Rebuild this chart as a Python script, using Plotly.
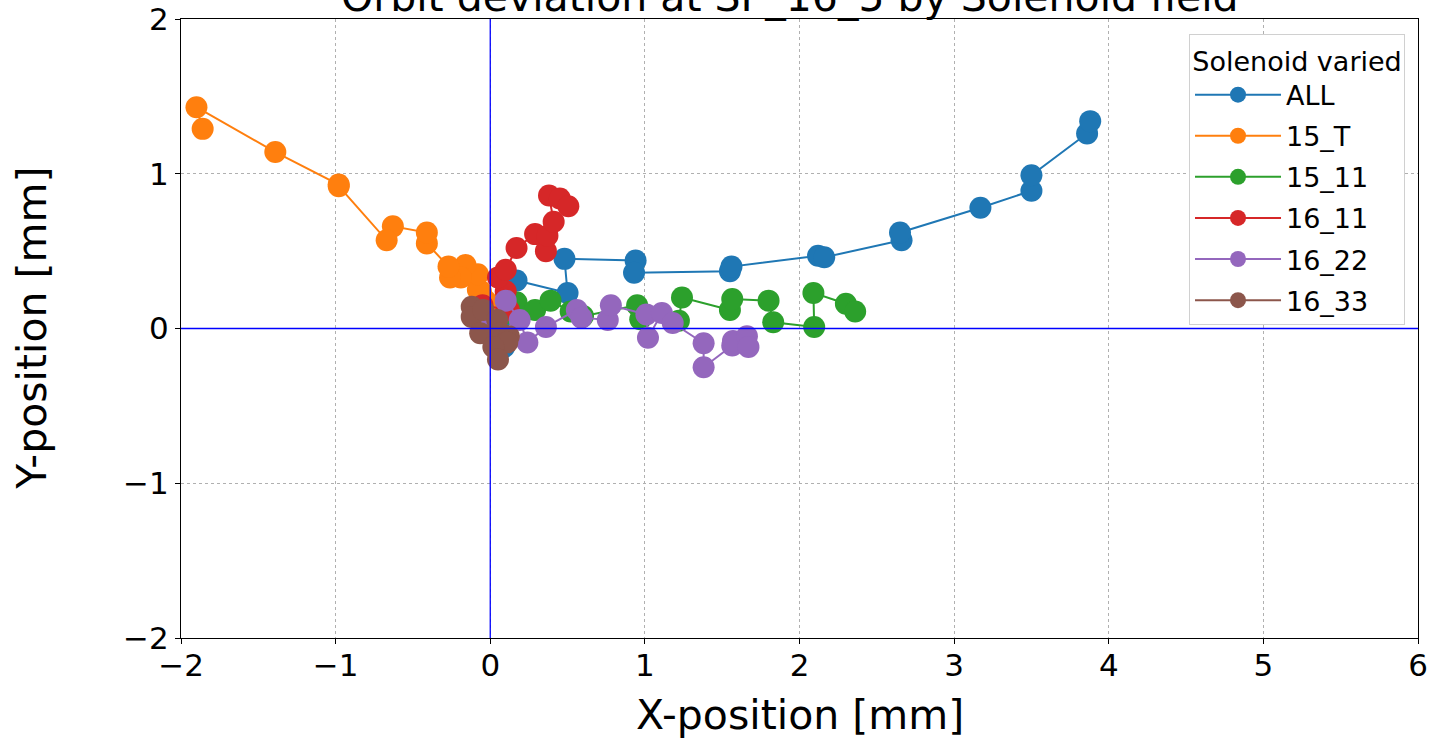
import plotly.graph_objects as go

# ---- data (mm) ----
all_x = [0.00, 0.09, 0.06, 0.17, 0.50, 0.48, 0.94, 0.93, 1.55, 1.56, 2.12, 2.16, 2.66, 2.65, 3.17, 3.50, 3.50, 3.86, 3.88]
all_y = [0.00, -0.12, 0.05, 0.31, 0.23, 0.45, 0.44, 0.36, 0.37, 0.40, 0.47, 0.46, 0.57, 0.62, 0.78, 0.89, 0.99, 1.26, 1.34]

t15_x = [0.02, 0.00, 0.10, -0.03, -0.06, -0.08, -0.08, -0.16, -0.19, -0.26, -0.27, -0.41, -0.41, -0.63, -0.67, -0.98, -0.98, -1.39, -1.90, -1.86]
t15_y = [0.05, 0.12, 0.22, 0.18, 0.24, 0.25, 0.35, 0.41, 0.33, 0.33, 0.40, 0.55, 0.62, 0.66, 0.57, 0.92, 0.93, 1.14, 1.43, 1.29]

s1511_x = [0.00, 0.10, 0.17, 0.29, 0.39, 0.52, 0.60, 0.95, 0.97, 1.22, 1.24, 1.55, 1.565, 1.80, 1.83, 2.095, 2.09, 2.30, 2.36]
s1511_y = [0.00, 0.10, 0.17, 0.12, 0.18, 0.11, 0.08, 0.15, 0.06, 0.05, 0.20, 0.12, 0.19, 0.18, 0.04, 0.01, 0.23, 0.16, 0.11]

s1611_x = [0.00, -0.05, 0.12, 0.10, 0.05, 0.10, 0.17, 0.29, 0.36, 0.37, 0.41, 0.38, 0.45, 0.505]
s1611_y = [0.00, 0.15, 0.12, 0.24, 0.33, 0.38, 0.52, 0.61, 0.50, 0.60, 0.69, 0.86, 0.84, 0.79]

s1622_x = [0.00, 0.10, 0.19, 0.24, 0.36, 0.56, 0.59, 0.76, 0.78, 1.01, 1.02, 1.11, 1.18, 1.38, 1.38, 1.565, 1.57, 1.66, 1.67]
s1622_y = [0.00, 0.18, 0.055, -0.09, 0.01, 0.12, 0.07, 0.055, 0.15, 0.09, -0.06, 0.10, 0.035, -0.095, -0.25, -0.11, -0.08, -0.05, -0.12]

s1633_x = [-0.12, -0.12, -0.045, 0.045, -0.065, 0.065, 0.12, 0.11, 0.02, 0.05]
s1633_y = [0.14, 0.075, 0.12, 0.055, -0.03, -0.03, -0.05, -0.09, -0.12, -0.20]

series_names = ["ALL", "15_T", "15_11", "16_11", "16_22", "16_33"]
series_x = [all_x, t15_x, s1511_x, s1611_x, s1622_x, s1633_x]
series_y = [all_y, t15_y, s1511_y, s1611_y, s1622_y, s1633_y]
colors = ["#1f77b4", "#ff7f0e", "#2ca02c", "#d62728", "#9467bd", "#8c564b"]

x_ticks = [-2, -1, 0, 1, 2, 3, 4, 5, 6]
y_ticks = [-2, -1, 0, 1, 2]

FONT = "DejaVu Sans"

fig = go.Figure()
for name, xs, ys, c in zip(series_names, series_x, series_y, colors):
    fig.add_trace(go.Scatter(
        x=xs, y=ys, name=name, mode="lines+markers", legendgroup=name,
        line=dict(color=c, width=2),
        marker=dict(color=c, size=22, line=dict(width=0)),
    ))

# zero lines
fig.add_shape(type="line", xref="x", yref="paper", x0=0, x1=0, y0=0, y1=1,
              line=dict(color="blue", width=1.3), layer="above")
fig.add_shape(type="line", xref="paper", yref="y", x0=0, x1=1, y0=0, y1=0,
              line=dict(color="blue", width=1.3), layer="above")

axis_common = dict(
    showgrid=True, gridcolor="#b0b0b0", griddash="dot", gridwidth=1,
    showline=True, linecolor="black", linewidth=1, mirror=True,
    ticks="outside", ticklen=5, tickcolor="black", tickwidth=1,
    zeroline=False, automargin=False,
    tickfont=dict(family=FONT, size=31, color="black"),
)

fig.update_layout(
    width=1430, height=738,
    margin=dict(l=181, r=12, t=19, b=100),
    paper_bgcolor="white", plot_bgcolor="white",
    font=dict(family=FONT, color="black"),
    xaxis=dict(range=[-2, 6], tickvals=x_ticks, ticklabelstandoff=-5, **axis_common),
    yaxis=dict(range=[-2, 2], tickvals=y_ticks, **axis_common),
    legend=dict(
        title=dict(text="Solenoid varied", font=dict(family=FONT, size=27), side="top center"),
        font=dict(family=FONT, size=27),
        x=0.9895, y=0.975, xanchor="right", yanchor="top",
        bgcolor="white", bordercolor="#d0d0d0", borderwidth=1,
        tracegroupgap=3, itemwidth=86,
    ),
    annotations=[
        dict(text="Orbit deviation at SP_16_5 by Solenoid field",
             xref="paper", yref="paper", x=0.4925, y=1, xanchor="center", yanchor="bottom",
             yshift=-4, showarrow=False, font=dict(family=FONT, size=41, color="black")),
        dict(text="X-position [mm]", xref="paper", yref="paper", x=0.5, y=-0.125,
             xanchor="center", yanchor="middle", showarrow=False,
             font=dict(family=FONT, size=41, color="black")),
        dict(text="Y-position [mm]", xref="paper", yref="paper", x=-0.121, y=0.5,
             xanchor="center", yanchor="middle", textangle=-90, showarrow=False,
             font=dict(family=FONT, size=41, color="black")),
    ],
    showlegend=True,
)

fig.write_html("out.html")
